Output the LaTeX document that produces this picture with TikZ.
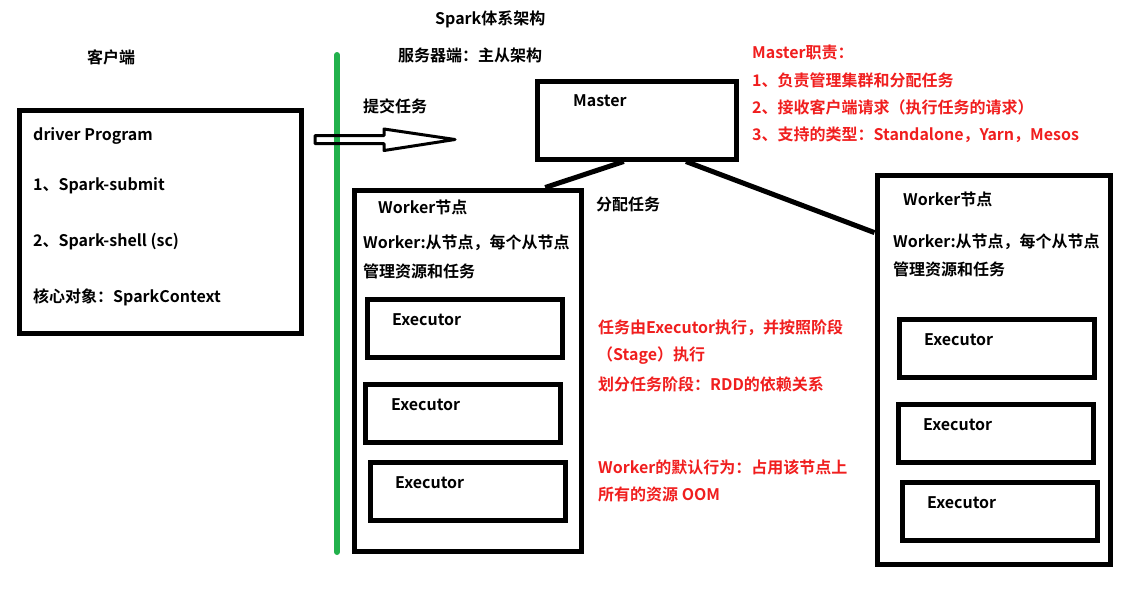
\documentclass[tikz,border=0pt]{standalone}
\usepackage{fontspec}
\setmainfont{Noto Sans CJK SC}[BoldFont={* Bold}]
\definecolor{notered}{RGB}{240,30,30}
\definecolor{linegreen}{RGB}{34,177,76}
\begin{document}
\begin{tikzpicture}[x=1pt,y=-1pt,
  every node/.style={font=\fontsize{16}{19}\selectfont\bfseries},
  lbl/.style={anchor=west,inner sep=0pt},
  note/.style={lbl,text=notered},
  box/.style={draw,line width=5pt,rectangle,inner sep=0pt},
  execbox/.style={box,minimum width=195pt,minimum height=58pt}]
\useasboundingbox (0,0) rectangle (1141,598);
% client side
\node[lbl] (client) at (87,57) {客户端};
\node[box,minimum width=282pt,minimum height=223pt] (driver) at (160,221.5) {};
\node[lbl] (d1) at (33,136) {driver Program};
\node[lbl] (d2) at (33,186) {1、Spark-submit};
\node[lbl] (d3) at (33,242) {2、Spark-shell (sc)};
\node[lbl] (d4) at (33,297) {核心对象：SparkContext};
\coordinate (gtop) at (337,55);
\coordinate (gbot) at (337,552);
\draw[linegreen,line width=6pt,line cap=round] (gtop) -- (gbot);
\draw[line width=3pt,line join=round] (315,135.5) -- (384,135.5) -- (384,129) -- (455,139.5)
  -- (384,150.5) -- (384,143.5) -- (315,143.5) -- cycle;
\node[lbl] (submit) at (363,106) {提交任务};
% server side
\node[lbl] (title) at (435,19) {Spark体系架构};
\node[lbl] (server) at (398,55) {服务器端：主从架构};
\node[box,minimum width=199pt,minimum height=78pt] (master) at (636.5,120) {};
\node[lbl] (mlbl) at (573,101) {Master};
\node[note] (m0) at (752,52) {Master职责：};
\node[note] (m1) at (752,80) {1、负责管理集群和分配任务};
\node[note] (m2) at (752,107) {2、接收客户端请求（执行任务的请求）};
\node[note] (m3) at (752,135) {3、支持的类型：Standalone，Yarn，Mesos};
\node[lbl] (assign) at (596,204) {分配任务};
% worker 1
\node[box,minimum width=227pt,minimum height=361pt] (w1) at (467.5,370.5) {};
\node[lbl] (w1a) at (378,207) {Worker节点};
\node[lbl] (w1b) at (363,243) {Worker:从节点，每个从节点};
\node[lbl] (w1c) at (363,271) {管理资源和任务};
\node[execbox] (e1) at (464.5,328.5) {};
\node[lbl] at (392,320) {Executor};
\node[execbox] (e2) at (463,413.5) {};
\node[lbl] at (391,405) {Executor};
\node[execbox] (e3) at (468,491) {};
\node[lbl] at (395,483) {Executor};
\node[note] (n1) at (598,328) {任务由Executor执行，并按照阶段};
\node[note] (n2) at (597,356) {（Stage）执行};
\node[note] (n3) at (598,384) {划分任务阶段：RDD的依赖关系};
\node[note] (n4) at (598,467) {Worker的默认行为：占用该节点上};
\node[note] (n5) at (598,494) {所有的资源 OOM};
% worker 2
\node[box,minimum width=233pt,minimum height=389pt] (w2) at (993.5,369.5) {};
\node[lbl] (w2a) at (903,199) {Worker节点};
\node[lbl] (w2b) at (893,242) {Worker:从节点，每个从节点};
\node[lbl] (w2c) at (893,269) {管理资源和任务};
\node[execbox] (f1) at (996.5,348) {};
\node[lbl] at (924,340) {Executor};
\node[execbox] (f2) at (996,433) {};
\node[lbl] at (923,425) {Executor};
\node[execbox] (f3) at (1000,511.5) {};
\node[lbl] at (927,503) {Executor};
\path[line width=5pt]
  (master.-107) edge (w1.67.5)
  (master.-40) edge (w2.131)
;
\end{tikzpicture}
\end{document}
